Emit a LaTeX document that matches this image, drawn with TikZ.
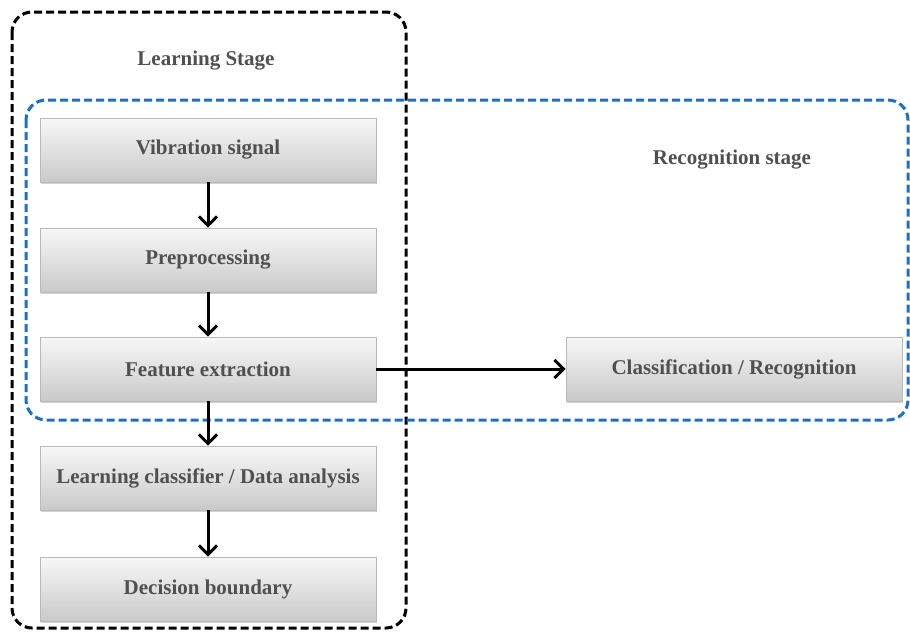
\documentclass[tikz,border=0pt]{standalone}
\usepackage{fontspec}
\setmainfont{Liberation Serif}
\usetikzlibrary{arrows.meta,shadows}
\definecolor{txtgray}{HTML}{505050}
\definecolor{dashblue}{HTML}{1F70C0}
\tikzset{
  procbox/.style={draw=gray!55, line width=0.8pt, top color=gray!6, bottom color=gray!42,
    minimum width=336pt, minimum height=64pt, inner sep=0pt,
    font=\bfseries\fontsize{21}{24}\selectfont, text=txtgray,
    drop shadow={shadow xshift=1pt, shadow yshift=-2pt, opacity=0.35}},
  flow/.style={line width=3pt, -{Straight Barb[length=9pt, width=18pt, line width=3pt]}},
  stagelbl/.style={font=\bfseries\fontsize{21}{24}\selectfont, text=txtgray},
  outerdash/.style={line width=3pt, dash pattern=on 8pt off 4pt, rounded corners=20pt}
}
\begin{document}
\begin{tikzpicture}[x=1pt,y=-1pt]
\useasboundingbox (0,0) rectangle (910,632);
\draw[outerdash, black] (12,12) rectangle (406,628);
\draw[outerdash, dashblue] (26,100) rectangle (908,420);
\node[stagelbl] (ls) at (206,61) {Learning Stage};
\node[stagelbl] (rs) at (732,160) {Recognition stage};
\node[procbox] (vs) at (208,150) {Vibration signal};
\node[procbox] (pp) at (208,260) {Preprocessing};
\node[procbox] (fe) at (208,369) {Feature extraction};
\node[procbox] (lc) at (208,478) {Learning classifier / Data analysis};
\node[procbox] (db) at (208,589) {Decision boundary};
\node[procbox] (cr) at (734,369) {Classification / Recognition};
\draw[flow] (vs) -- (pp);
\draw[flow] (pp) -- (fe);
\draw[flow] (fe) -- (lc);
\draw[flow] (lc) -- (db);
\draw[flow] (fe) -- (cr);
\end{tikzpicture}
\end{document}
